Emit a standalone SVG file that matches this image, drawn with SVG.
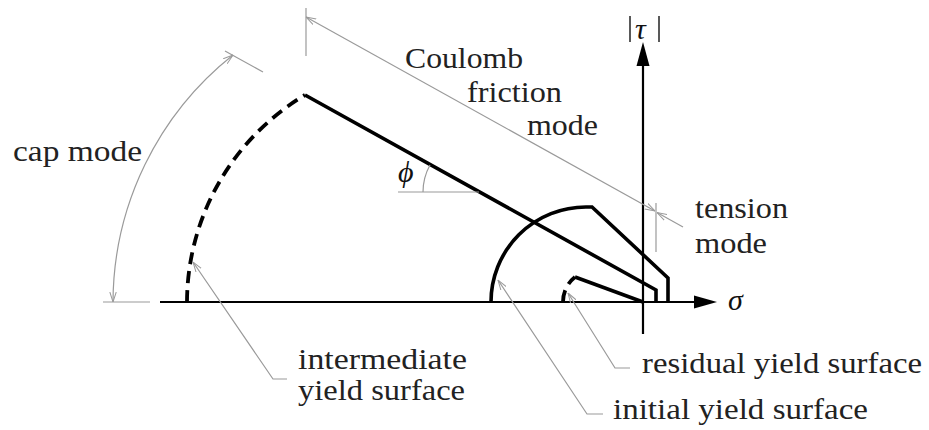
<svg xmlns="http://www.w3.org/2000/svg" width="929" height="430" viewBox="0 0 929 430">
<style>
.t{font-family:'Liberation Serif','DejaVu Serif',serif;font-size:29px;fill:#222}
.m{font-family:'Liberation Serif','DejaVu Serif',serif;font-style:italic;font-size:30px;fill:#111}
.g{fill:none;stroke:#9a9a9a;stroke-width:1.2}
.k{fill:none;stroke:#000;stroke-width:3.6;stroke-linejoin:miter}
.d{fill:none;stroke:#000;stroke-width:3.8;stroke-dasharray:12,7}
.ax{fill:none;stroke:#000;stroke-width:2.2}
</style>
<defs>
<marker id="a" viewBox="0 0 10 8" refX="10" refY="4" markerWidth="10" markerHeight="8" markerUnits="userSpaceOnUse" orient="auto-start-reverse">
<path d="M0,0.8 L10,4 L0,7.2" fill="none" stroke="#9a9a9a" stroke-width="1"/>
</marker>
</defs>
<rect width="929" height="430" fill="#fff"/>
<g id="axes">
<line class="ax" x1="160" y1="302" x2="696" y2="302"/>
<polygon points="717,302 694,295.5 694,308.5" fill="#000"/>
<line class="ax" x1="643" y1="334" x2="643" y2="64"/>
<polygon points="643,42 636.5,66 649.5,66" fill="#000"/>
<line x1="630" y1="16" x2="630" y2="42" stroke="#222" stroke-width="1.5"/>
<line x1="659" y1="16" x2="659" y2="42" stroke="#222" stroke-width="1.5"/>
<text class="m" x="635" y="39" font-size="30">τ</text>
<text class="m" x="728" y="310">σ</text>
</g>
<g id="intermediate-surface">
<path class="d" d="M187,302 A242,242 0 0 1 305,95"/>
<path class="k" d="M305,95 L656,290 L656,302"/>
</g>
<g id="initial-surface">
<path class="k" d="M491,302 A95,95 0 0 1 586,207 L592,207 L668,278 L668,302"/>
</g>
<g id="residual-surface">
<path class="d" stroke-dasharray="9,5" d="M563,302 A32,32 0 0 1 575,277"/>
<path class="k" d="M575,277 L643,302"/>
</g>
<g id="angle-phi">
<line class="g" x1="398" y1="192" x2="479" y2="192"/>
<path class="g" d="M423,192 A56,56 0 0 1 430,165"/>
<text class="m" x="398" y="182" font-size="28">ϕ</text>
</g>
<g id="connectors">
<line class="g" x1="306" y1="8" x2="306" y2="56"/>
<line class="g" x1="656" y1="203" x2="656" y2="252"/>
<line class="g" x1="103" y1="302" x2="150" y2="302"/>
<line class="g" x1="225" y1="51" x2="263" y2="72"/>
<path class="g" d="M306,17 L655,211" marker-start="url(#a)" marker-end="url(#a)"/>
<path class="g" d="M683,227 L657,212.5" marker-end="url(#a)"/>
<path class="g" d="M113,302 A317,317 0 0 1 233,55" marker-start="url(#a)" marker-end="url(#a)"/>
<path class="g" d="M287,379 L273,379 L193,262" marker-end="url(#a)"/>
<path class="g" d="M603,414 L587,414 L498,280" marker-end="url(#a)"/>
<path class="g" d="M630,368 L615,368 L568,293" marker-end="url(#a)"/>
</g>
<g id="label-cap"><text class="t" x="13" y="161" textLength="129" lengthAdjust="spacingAndGlyphs">cap mode</text></g>
<g id="label-coulomb">
<text class="t" x="405" y="68" textLength="118" lengthAdjust="spacingAndGlyphs">Coulomb</text>
<text class="t" x="467" y="102" textLength="95" lengthAdjust="spacingAndGlyphs">friction</text>
<text class="t" x="527" y="135" textLength="71" lengthAdjust="spacingAndGlyphs">mode</text>
</g>
<g id="label-tension">
<text class="t" x="695" y="218" textLength="93" lengthAdjust="spacingAndGlyphs">tension</text>
<text class="t" x="695" y="253" textLength="72" lengthAdjust="spacingAndGlyphs">mode</text>
</g>
<g id="label-intermediate">
<text class="t" x="298" y="369" textLength="169" lengthAdjust="spacingAndGlyphs">intermediate</text>
<text class="t" x="298" y="400" textLength="167" lengthAdjust="spacingAndGlyphs">yield surface</text>
</g>
<g id="label-residual"><text class="t" x="642" y="373" textLength="280" lengthAdjust="spacingAndGlyphs">residual yield surface</text></g>
<g id="label-initial"><text class="t" x="613" y="419" textLength="255" lengthAdjust="spacingAndGlyphs">initial yield surface</text></g>
</svg>
